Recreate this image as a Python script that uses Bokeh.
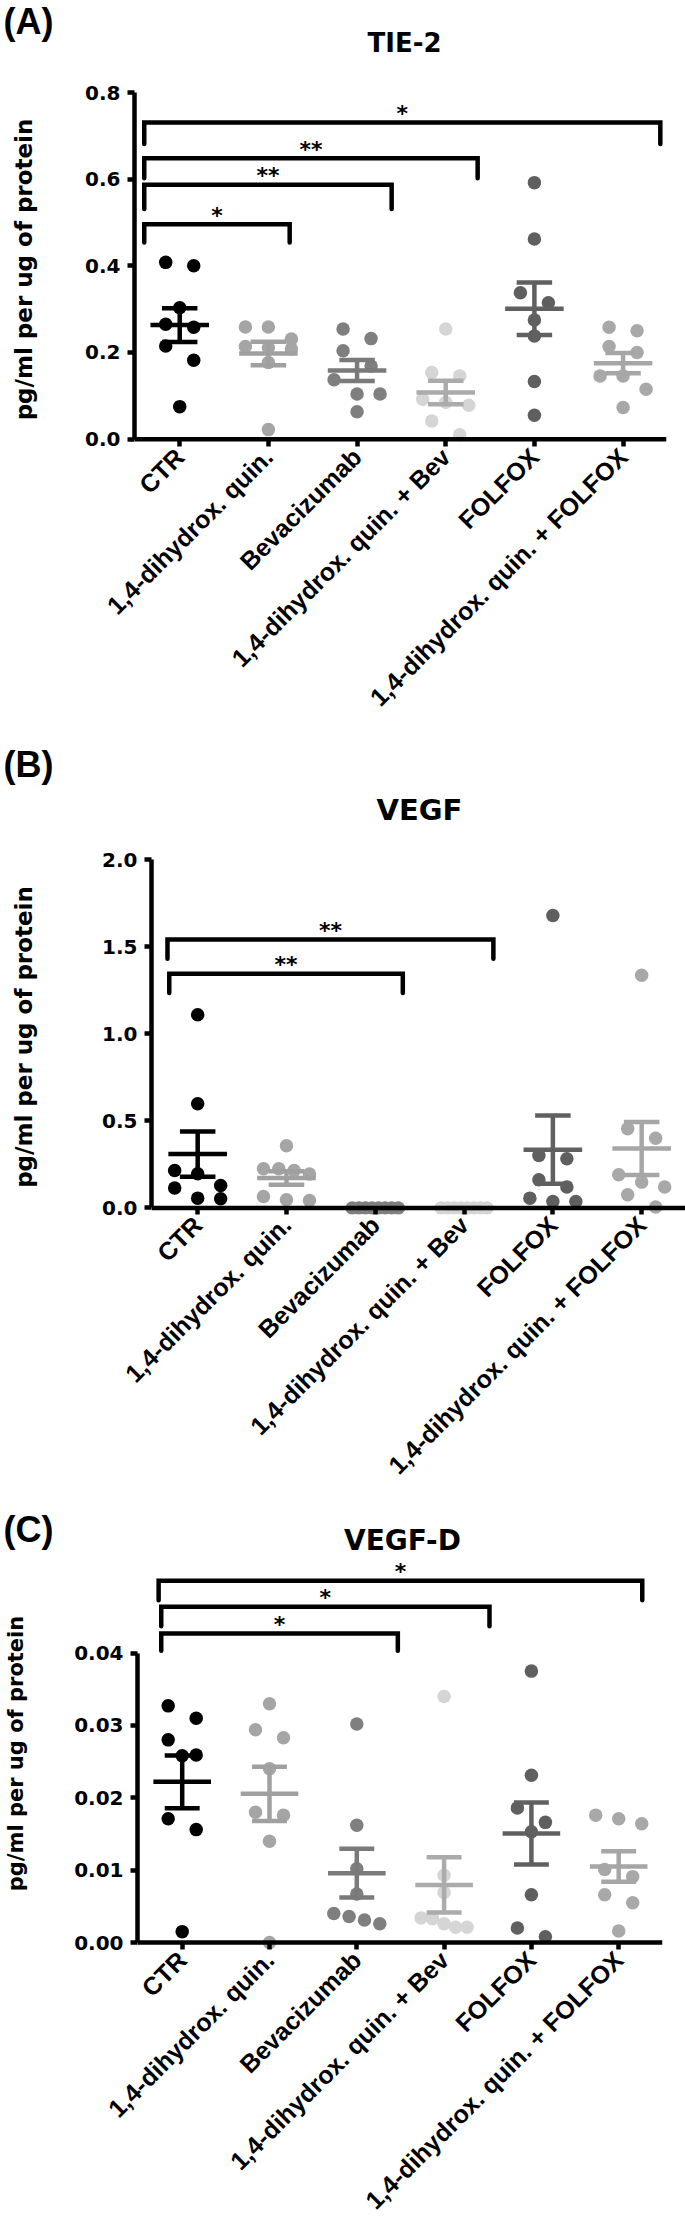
import math
import numpy as np
from bokeh.plotting import figure
from bokeh.models import FixedTicker, PrintfTickFormatter, Span, Range1d, ColumnDataSource
from bokeh.embed import file_html
from bokeh.resources import INLINE
from bokeh.core.properties import value

# ---------------- data ----------------
GROUPS = ["CTR", "1,4-dihydrox. quin.", "Bevacizumab",
          "1,4-dihydrox. quin. + Bev", "FOLFOX", "1,4-dihydrox. quin. + FOLFOX"]
POINT_COLORS = ["#000000", "#a5a5a5", "#7f7f7f", "#d5d5d5", "#5f5f5f", "#a8a8a8"]
LINE_COLORS = ["#000000", "#a0a0a0", "#7a7a7a", "#ababab", "#606060", "#a6a6a6"]

TIE2 = [
    [0.408, 0.400, 0.303, 0.265, 0.258, 0.215, 0.182, 0.075],
    [0.259, 0.259, 0.231, 0.214, 0.211, 0.208, 0.177, 0.022],
    [0.254, 0.232, 0.204, 0.169, 0.137, 0.104, 0.104, 0.063],
    [0.254, 0.154, 0.146, 0.092, 0.085, 0.078, 0.042, 0.010],
    [0.592, 0.462, 0.338, 0.315, 0.275, 0.238, 0.133, 0.055],
    [0.258, 0.250, 0.214, 0.200, 0.146, 0.146, 0.115, 0.073],
]
VEGF = [
    [1.109, 0.598, 0.215, 0.196, 0.129, 0.114, 0.056, 0.053],
    [0.357, 0.225, 0.225, 0.215, 0.195, 0.066, 0.047, 0.043],
    [0.0, 0.0, 0.0, 0.0, 0.0, 0.0, 0.0, 0.0],
    [0.0, 0.0, 0.0, 0.0, 0.0, 0.0, 0.0, 0.0],
    [1.679, 0.301, 0.282, 0.162, 0.120, 0.056, 0.037, 0.037],
    [1.335, 0.455, 0.400, 0.190, 0.148, 0.120, 0.076, 0.005],
]
VEGFD = [
    [0.0327, 0.0310, 0.0280, 0.0259, 0.0258, 0.0171, 0.0156, 0.0015],
    [0.0330, 0.0294, 0.0283, 0.0240, 0.0180, 0.0176, 0.0140, 0.0000],
    [0.0302, 0.0162, 0.0102, 0.0067, 0.0040, 0.0036, 0.0031, 0.0026],
    [0.0340, 0.0093, 0.0069, 0.0034, 0.0033, 0.0026, 0.0021, 0.0021],
    [0.0375, 0.0231, 0.0186, 0.0166, 0.0153, 0.0066, 0.0020, 0.0008],
    [0.0176, 0.0171, 0.0164, 0.0101, 0.0091, 0.0066, 0.0055, 0.0016],
]

TIE2_TICKS = [0.0, 0.2, 0.4, 0.6, 0.8]
VEGF_TICKS = [0.0, 0.5, 1.0, 1.5, 2.0]
VEGFD_TICKS = [0.00, 0.01, 0.02, 0.03, 0.04]

# significance brackets: (left end, right end [category units], bar level, arm end level, label)
TIE2_SIG = [(-0.40, 5.42, 0.731, 0.681, "*"), (-0.40, 3.36, 0.648, 0.602, "**"),
            (-0.40, 2.39, 0.587, 0.531, "**"), (-0.40, 1.24, 0.496, 0.454, "*")]
VEGF_SIG = [(-0.34, 3.33, 1.541, 1.430, "**"), (-0.32, 2.31, 1.344, 1.233, "**")]
VEGFD_SIG = [(-0.27, 5.27, 0.0500, 0.0473, "*"), (-0.24, 3.52, 0.0464, 0.0437, "*"),
             (-0.24, 2.47, 0.0427, 0.0403, "*")]

YLABEL = "pg/ml per ug of protein"
W = 685


def swarm(vals, sy, sx, thr_px=15.5, step_px=28.0, span_px=46.0):
    order = sorted(range(len(vals)), key=lambda k: -vals[k])
    rows = []
    for k in order:
        if rows and (vals[rows[-1][0]] - vals[k]) * sy < thr_px:
            rows[-1].append(k)
        else:
            rows.append([k])
    off = [0.0] * len(vals)
    for r in rows:
        n = len(r)
        if n > 1:
            step = min(step_px, span_px / (n - 1))
            for j, k in enumerate(r):
                off[k] = (j - (n - 1) / 2.0) * step / sx
    return off


def header(h, letter, letter_y, title, title_x, title_y, title_size):
    p = figure(width=W, height=h, x_range=Range1d(0, W), y_range=Range1d(h, 0),
               x_axis_type=None, y_axis_type=None, output_backend="svg",
               toolbar_location=None, min_border=0)
    p.outline_line_color = None
    p.text(x=[3], y=[letter_y], text=[letter], text_align="left",
           text_baseline="middle", text_font=value("Liberation Sans"),
           text_font_style="bold", text_font_size="36px", text_color="black")
    p.text(x=[title_x], y=[title_y], text=[title], text_align="center",
           text_baseline="middle", text_font=value("DejaVu Sans"),
           text_font_style="bold", text_font_size=title_size, text_color="black")
    return p


def panel(data, ticks, fmt, sig, c):
    H, bt, fh, bl, br = c["H"], c["bt"], c["fh"], c["bl"], c["br"]
    fw = W - bl - br
    xlo, sx = c["xlo"], c["sx"]
    xhi = xlo + fw / sx
    yhi, sy = c["yhi"], c["sy"]
    ylo = yhi - fh / sy
    p = figure(width=W, height=H, x_range=Range1d(xlo, xhi), y_range=Range1d(ylo, yhi),
               output_backend="svg", toolbar_location=None,
               min_border_left=bl, min_border_right=br, min_border_top=bt,
               min_border_bottom=H - bt - fh)
    p.outline_line_color = None
    p.xgrid.visible = False
    p.ygrid.visible = False

    yax = p.yaxis[0]
    yax.ticker = FixedTicker(ticks=ticks)
    yax.formatter = PrintfTickFormatter(format=fmt)
    yax.bounds = (ticks[0], ticks[-1])
    yax.axis_line_width = 4.5
    yax.major_tick_line_width = 4.5
    yax.major_tick_out = 7
    yax.major_tick_in = 0
    yax.minor_tick_line_color = None
    yax.major_label_text_font = "DejaVu Sans"
    yax.major_label_text_font_style = "bold"
    yax.major_label_text_font_size = "20px"
    yax.major_label_text_color = "black"
    yax.major_label_standoff = 7
    yax.axis_label = YLABEL
    yax.axis_label_text_font = "DejaVu Sans"
    yax.axis_label_text_font_style = "bold"
    yax.axis_label_text_font_size = c["ylab_size"]
    yax.axis_label_text_color = "black"
    yax.axis_label_standoff = c["ylab_standoff"]

    xax = p.xaxis[0]
    xax.ticker = FixedTicker(ticks=list(range(len(GROUPS))))
    xax.major_label_overrides = {i: g for i, g in enumerate(GROUPS)}
    xax.axis_line_color = None
    xax.major_tick_line_width = 4.5
    xax.major_tick_in = 7
    xax.major_tick_out = 0
    xax.minor_tick_line_color = None
    xax.major_label_orientation = math.pi / 4
    xax.major_label_text_font = "Liberation Sans"
    xax.major_label_text_font_style = "bold"
    xax.major_label_text_font_size = "25px"
    xax.major_label_text_color = "black"
    xax.major_label_standoff = 6
    p.add_layout(Span(location=0, dimension="width", line_color="black", line_width=4.5))

    for i, vals in enumerate(data):
        offs = swarm(vals, sy, sx)
        src = ColumnDataSource(dict(x=[i + o for o in offs], y=vals))
        p.scatter("x", "y", source=src, size=13.5, fill_color=POINT_COLORS[i], line_color=None)

    for i, vals in enumerate(data):
        m = float(np.mean(vals))
        s = float(np.std(vals, ddof=1) / np.sqrt(len(vals)))
        p.segment(x0=[i - 0.33, i - 0.2, i - 0.2, i], y0=[m, m + s, m - s, m - s],
                  x1=[i + 0.33, i + 0.2, i + 0.2, i], y1=[m, m + s, m - s, m + s],
                  line_color=LINE_COLORS[i], line_width=4.5)

    xs = [[a, a, b, b] for a, b, top, arm, lab in sig]
    ys = [[arm, top, top, arm] for a, b, top, arm, lab in sig]
    p.multi_line(xs, ys, line_color="black", line_width=4.5, line_join="miter", line_cap="round")
    p.text(x=[(a + b) / 2 for a, b, top, arm, lab in sig], y=[top for a, b, top, arm, lab in sig],
           text=[lab for a, b, top, arm, lab in sig], text_align="center",
           text_baseline="middle", y_offset=-9, text_font=value("DejaVu Sans"),
           text_font_style="bold", text_font_size="22px", text_color="black")
    return p


CFG_A = dict(H=675, bt=34, fh=354, bl=134, br=19, xlo=-0.51, sx=88.67, yhi=0.8, sy=433.3,
             ylab_size="23px", ylab_standoff=45)
CFG_B = dict(H=674, bt=32, fh=355, bl=151, br=0, xlo=-0.52, sx=88.8, yhi=2.0, sy=174.2,
             ylab_size="23px", ylab_standoff=62)
CFG_C = dict(H=679, bt=0, fh=392, bl=137, br=23, xlo=-0.512, sx=87.3, yhi=0.0532,
             sy=(392 - 7) / 0.0532, ylab_size="21px", ylab_standoff=43)

hA = header(58, "(A)", 21, "TIE-2", 404, 42, "26px")
pA = panel(TIE2, TIE2_TICKS, "%.1f", TIE2_SIG, CFG_A)
hB = header(94, "(B)", 31, "VEGF", 419, 76, "29px")
pB = panel(VEGF, VEGF_TICKS, "%.1f", VEGF_SIG, CFG_B)
hC = header(56, "(C)", 28, "VEGF-D", 402, 39, "28px")
pC = panel(VEGFD, VEGFD_TICKS, "%.2f", VEGFD_SIG, CFG_C)

# separate roots, stacked top to bottom, so that each panel keeps its own frame position
open("out.html", "w").write(file_html([hA, pA, hB, pB, hC, pC], INLINE))
